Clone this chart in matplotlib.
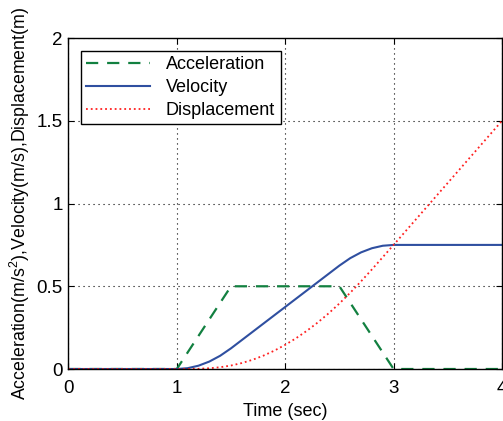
import matplotlib
matplotlib.use("Agg")
import matplotlib.pyplot as plt

plt.rcParams['font.family'] = ['Liberation Sans', 'DejaVu Sans']
plt.rcParams['mathtext.fontset'] = 'custom'
plt.rcParams['mathtext.rm'] = 'Liberation Sans'

# Acceleration (trapezoid profile)
t_acc = [0, 1.0, 1.5, 2.5, 3.0, 4.0]
acc = [0, 0, 0.5, 0.5, 0, 0]

# Velocity and displacement
t_vd = [0, 1.0, 1.1, 1.2, 1.3, 1.4, 1.5, 1.6, 1.7, 1.8, 1.9, 2.0,
        2.1, 2.2, 2.3, 2.4, 2.5, 2.6, 2.7, 2.8, 2.9, 3.0, 3.5, 4.0]
vel = [0, 0, 0.005, 0.02, 0.045, 0.08, 0.125, 0.175, 0.225, 0.275, 0.325, 0.375,
       0.425, 0.475, 0.525, 0.575, 0.625, 0.67, 0.705, 0.73, 0.745, 0.75, 0.75, 0.75]
disp = [0, 0, 0.0002, 0.0013, 0.0045, 0.0107, 0.021, 0.036, 0.056, 0.081, 0.111, 0.146,
        0.186, 0.231, 0.281, 0.336, 0.396, 0.461, 0.530, 0.602, 0.676, 0.75, 1.125, 1.5]

fig = plt.figure(figsize=(5.03, 4.21), dpi=100)
ax = fig.add_axes([0.136, 0.1235, 0.862, 0.786])

ax.plot(t_acc, acc, '--', color='#128040', lw=1.6, dashes=(5.5, 4), label='Acceleration')
ax.plot(t_vd, vel, '-', color='#2f4fa0', lw=1.5, label='Velocity')
ax.plot(t_vd, disp, ':', color='#ff2020', lw=1.3, label='Displacement')

ax.set_xlim(0, 4)
ax.set_ylim(0, 2)
ax.set_xticks([0, 1, 2, 3, 4])
ax.set_yticks([0, 0.5, 1, 1.5, 2])
ax.set_yticklabels(['0', '0.5', '1', '1.5', '2'])
ax.grid(True, linestyle=(0, (1, 3.5)), color='black', lw=0.8)
ax.tick_params(direction='in', labelsize=13.5, length=4, top=True, right=True)
ax.tick_params(axis='x', pad=8)
ax.tick_params(axis='y', pad=4)
for s in ax.spines.values():
    s.set_linewidth(1.0)

ax.set_xlabel('Time (sec)', fontsize=13, labelpad=4)
ax.set_ylabel('Acceleration(m/s$^2$),Velocity(m/s),Displacement(m)', fontsize=12.8, labelpad=3)

leg = ax.legend(loc='upper left', fontsize=13, fancybox=False, framealpha=1,
                edgecolor='black', borderaxespad=0.7, handlelength=3.5,
                handletextpad=0.9, labelspacing=0.33, borderpad=0.3)
leg.get_frame().set_linewidth(1.0)

fig.savefig('out.png', dpi=100)
